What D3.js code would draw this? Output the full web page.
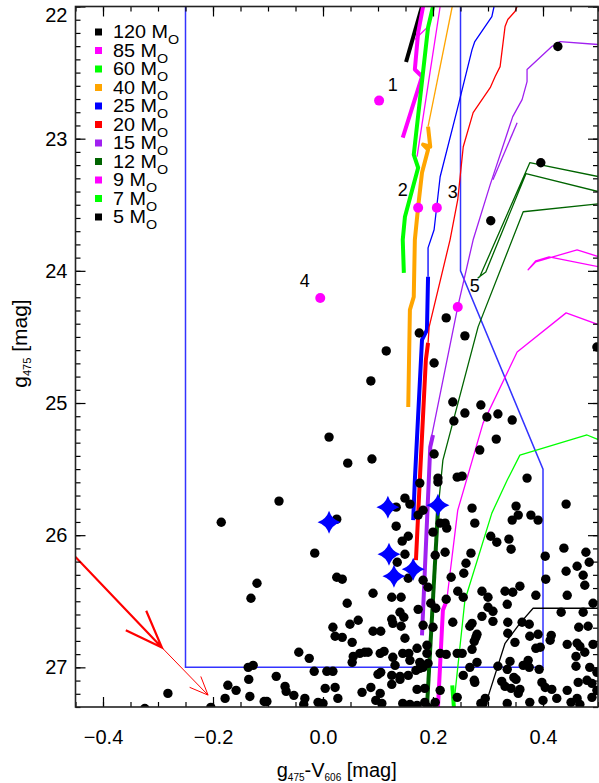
<!DOCTYPE html>
<html><head><meta charset="utf-8">
<script src="https://cdn.jsdelivr.net/npm/d3@7"></script>
<style>body{margin:0;background:#fff} svg{display:block;font-family:"Liberation Sans",Arial,Helvetica,sans-serif}</style>
</head><body><svg id="c" width="599" height="783"></svg>
<script>
// ---------- data ----------
const xTicks = [-0.4, -0.2, 0.0, 0.2, 0.4];
const yTicks = [22, 23, 24, 25, 26, 27];
const legendMasses = ["120", "85", "60", "40", "25", "20", "15", "12", "9", "7", "5"];
const legendColors = ["#000000", "#ff00ff", "#00ff00", "#ffa500", "#0000ff", "#ff0000", "#a020f0", "#006400", "#ff00ff", "#00ff00", "#000000"];

// selection box (x, y)
const boxX = [-0.25, -0.25, 0.4, 0.4, 0.25, 0.25];
const boxY = [22.0, 27.0, 27.0, 25.5, 24.0, 22.0];

// evolutionary tracks
const track120Thick = [[0.151,22.42],[0.180,22.0]];
const track85Thick = [[0.182,22.0],[0.173,22.197],[0.167,22.477],[0.180,22.530],[0.145,22.992]];
const track85Thin = [[0.213,22.0],[0.171,23.136]];
const track85Branch = [[0.167,22.25],[0.191,22.152]];
const track60Thick = [[0.200,22.0],[0.191,22.159],[0.165,23.121],[0.173,23.220],[0.149,23.591],[0.145,23.765],[0.147,24.015]];
const track40Thin = [[0.235,22.0],[0.191,22.909]];
const track40Thick = [[0.191,22.909],[0.195,23.061],[0.182,23.045],[0.191,23.083],[0.180,23.258],[0.173,23.515],[0.167,23.765],[0.165,24.197],[0.158,24.295],[0.155,25.030]];
const track25Thin = [[0.311,22.0],[0.307,22.076],[0.276,22.265],[0.271,22.326],[0.244,22.780],[0.213,23.288],[0.202,23.689],[0.191,23.826],[0.191,24.045]];
const track25Thick = [[0.191,24.045],[0.189,24.447],[0.180,24.523],[0.167,25.583],[0.164,25.886]];
const track20Thin = [[0.353,22.0],[0.349,22.038],[0.336,22.098],[0.331,22.152],[0.322,22.455],[0.313,22.530],[0.304,22.614],[0.273,22.803],[0.255,23.061],[0.245,23.462],[0.231,23.765],[0.193,24.424],[0.191,24.545]];
const track20Thick = [[0.191,24.545],[0.187,24.674],[0.176,25.583],[0.169,26.189]];
const track15Thin = [[0.502,22.288],[0.431,22.265],[0.416,22.303],[0.371,22.477],[0.371,22.568],[0.362,22.705],[0.345,22.833],[0.304,23.348],[0.273,23.765],[0.245,24.273],[0.195,25.303]];
const track15Loop = [[0.353,22.879],[0.309,23.311]];
const track15Thick = [[0.200,25.242],[0.195,25.333],[0.180,26.758]];
const track12Loop = [[0.502,23.288],[0.376,23.182],[0.285,24.045],[0.282,24.053],[0.296,24.008],[0.369,23.265],[0.502,23.402]];
const track12Thin = [[0.502,23.492],[0.364,23.553],[0.282,24.424],[0.218,25.432],[0.209,25.811]];
const track12Thick = [[0.209,25.811],[0.189,27.303]];
const track9Loop = [[0.502,23.894],[0.462,23.841],[0.387,23.932],[0.373,23.992],[0.387,23.924],[0.411,23.894],[0.502,23.970]];
const track9Thin = [[0.502,24.409],[0.442,24.318],[0.353,24.614],[0.291,25.152],[0.245,25.811],[0.225,26.492]];
const track9Thick = [[0.225,26.492],[0.218,26.568],[0.209,27.303]];
const track7Thin = [[0.502,25.280],[0.480,25.242],[0.358,25.394],[0.335,25.583],[0.307,25.833],[0.258,26.492],[0.240,27.197]];
const track7Thick = [[0.235,27.136],[0.238,27.303]];
const track5Thin = [[0.502,26.553],[0.382,26.553],[0.358,26.667],[0.331,26.818],[0.298,27.250],[0.291,27.303]];

// field stars [colour, magnitude]
const fieldStars = [
[0.427,22.303],[0.396,23.182],[0.305,23.621],[0.224,24.356],[0.175,24.470],[0.258,24.492],[0.115,24.606],[0.087,24.833],[0.202,24.697],[0.236,24.992],[0.287,25.015],[0.258,25.076],[0.318,25.083],[0.298,25.106],[0.238,25.136],[0.344,25.129],[0.315,25.273],[0.285,25.356],[0.202,25.386],[0.045,25.455],[0.089,25.424],[0.209,25.568],[0.244,25.561],[0.253,25.553],[0.371,25.568],[0.498,24.576],[0.011,25.258],
[-0.080,25.742],[-0.185,25.902],[-0.120,26.364],[-0.131,26.477],[-0.044,26.886],[-0.136,27.000],[-0.127,26.985],[-0.135,27.091],[-0.085,27.068],[-0.173,27.136],[-0.158,27.174],[-0.069,27.144],[-0.067,27.182],[-0.282,27.197],[-0.178,27.235],[-0.133,27.220],[-0.053,27.212],[-0.107,27.258],[-0.102,27.258],[-0.033,27.235],[-0.035,27.280],[-0.324,27.311],[-0.204,27.303],[-0.025,26.932],
[0.176,25.606],[0.209,25.598],[0.149,25.720],[0.158,25.765],[0.133,25.788],[0.182,25.811],[0.173,25.848],[0.025,25.879],[0.133,25.932],[0.222,25.909],[0.213,25.909],[0.225,25.947],[0.200,25.977],[0.155,26.008],[0.144,26.045],[-0.015,26.136],[0.149,26.144],[0.222,26.129],[0.204,26.152],[0.135,26.205],
[0.025,26.318],[0.035,26.333],[0.155,26.326],[0.182,26.341],[0.191,26.394],[0.091,26.439],[0.125,26.470],[0.142,26.470],[0.044,26.515],[0.173,26.561],[0.196,26.515],[0.205,26.553],[0.224,26.485],[0.140,26.583],[0.147,26.621],[0.125,26.636],[0.127,26.667],[0.064,26.644],[0.049,26.674],[0.018,26.697],[0.142,26.689],[0.182,26.682],[0.200,26.697],[0.091,26.727],[0.105,26.727],[0.022,26.765],[0.035,26.773],[0.053,26.811],[0.149,26.780],[0.189,26.833],[0.171,26.856],[0.236,26.659],
[0.067,26.894],[0.076,26.886],[0.082,26.886],[0.055,26.917],[0.053,26.962],[0.104,26.894],[0.111,26.879],[0.127,26.924],[0.145,26.894],[0.156,26.894],[0.189,26.894],[0.213,26.894],[0.224,26.902],[0.158,26.947],[0.176,26.962],[0.191,26.970],[0.131,26.985],
[-0.016,27.030],[0.007,27.030],[0.018,27.030],[0.105,27.038],[0.100,27.053],[0.125,27.061],[0.140,27.068],[0.155,27.061],[0.169,27.023],[0.176,27.008],[0.182,27.000],
[0.004,27.159],[0.022,27.152],[0.071,27.189],[0.087,27.152],[0.104,27.197],[0.125,27.129],[0.140,27.091],[0.171,27.167],[0.185,27.159],[0.213,27.174],
[-0.009,27.265],[0.000,27.273],[0.027,27.235],[0.096,27.250],[0.107,27.273],[0.145,27.273],[0.158,27.280],[0.171,27.288],[0.185,27.265],[0.191,27.303],[0.204,27.265],
[0.271,25.795],[0.276,25.909],[0.351,25.780],[0.355,25.848],[0.344,25.886],[0.378,25.848],[0.391,25.886],[0.442,25.765],[0.305,26.008],[0.316,26.053],[0.338,26.030],[0.342,26.106],[0.269,26.136],[0.260,26.212],[0.256,26.288],[0.233,26.318],
[0.404,26.159],[0.438,26.098],[0.478,26.129],[0.442,26.273],[0.462,26.235],[0.484,26.205],[0.473,26.303],[0.405,26.333],[0.476,26.379],[0.358,26.386],[0.345,26.432],[0.331,26.424],[0.289,26.424],[0.300,26.470],[0.245,26.424],[0.255,26.470],[0.387,26.455],[0.444,26.455],
[0.335,26.523],[0.300,26.545],[0.309,26.576],[0.289,26.614],[0.433,26.583],[0.473,26.583],[0.491,26.515],[0.271,26.667],[0.267,26.689],[0.309,26.652],[0.336,26.659],[0.362,26.659],[0.375,26.674],[0.336,26.742],[0.280,26.750],[0.278,26.773],[0.275,26.803],[0.349,26.811],[0.376,26.765],[0.391,26.750],[0.415,26.758],[0.465,26.697],[0.482,26.689],[0.413,26.795],[0.444,26.826],[0.462,26.818],[0.467,26.841],[0.491,26.826],
[0.244,26.894],[0.253,26.894],[0.271,26.864],[0.387,26.856],[0.395,26.848],[0.460,26.917],[0.476,26.886],[0.280,26.962],[0.340,26.955],[0.373,26.947],[0.267,27.000],[0.318,26.992],[0.335,27.015],[0.364,26.985],[0.375,27.000],[0.393,27.015],[0.460,26.992],[0.485,27.000],[0.498,27.038],
[0.255,27.061],[0.275,27.098],[0.325,27.106],[0.347,27.076],[0.351,27.091],[0.398,27.114],[0.444,27.174],[0.464,27.114],[0.480,27.098],[0.489,27.121],[0.276,27.114],[0.331,27.144],[0.342,27.159],[0.358,27.167],[0.355,27.197],[0.404,27.152],[0.416,27.167],[0.425,27.235],
[0.244,27.227],[0.295,27.235],[0.287,27.273],[0.291,27.273],[0.335,27.273],[0.376,27.265],[0.400,27.250],[0.451,27.265],[0.462,27.235],[0.467,27.280],[0.489,27.227],[0.498,27.174]
];

// blue four-pointed star candidates
const candX = [0.011, 0.118, 0.209, 0.120, 0.164, 0.129];
const candY = [25.902, 25.788, 25.773, 26.144, 26.258, 26.311];

// numbered magenta sources
const srcX = [0.102, 0.173, 0.207, -0.005, 0.245];
const srcY = [22.712, 23.523, 23.523, 24.205, 24.273];
const srcLabels = ["1", "2", "3", "4", "5"];
const srcLabelX = [0.127, 0.145, 0.236, -0.033, 0.276];
const srcLabelY = [22.591, 23.386, 23.402, 24.076, 24.114];

// reddening arrows (start, mid, end)
const arrowX = [-0.45, -0.293, -0.209];
const arrowY = [26.165, 26.85, 27.21];

// ---------- drawing ----------
const svg = d3.select("#c");
const x = d3.scaleLinear().domain([-0.45, 0.5]).range([75.5, 598]);
const y = d3.scaleLinear().domain([22, 27.3]).range([6.5, 707]);
const X0 = x(-0.45), X1 = x(0.5), Y0 = y(22), Y1 = y(27.3);

svg.append("defs").append("clipPath").attr("id", "clip")
  .append("rect").attr("x", X0).attr("y", Y0).attr("width", X1 - X0).attr("height", Y1 - Y0);
const plot = svg.append("g").attr("clip-path", "url(#clip)");
const line = d3.line().x(d => x(d[0])).y(d => y(d[1]));

// selection box
plot.append("path").attr("d", line(boxX.map((v, i) => [v, boxY[i]])))
  .attr("fill", "none").attr("stroke", "#3333ff").attr("stroke-width", 1.5);

// tracks
const thin = 1.3, thick = 4;
const tracks = [
  [track120Thick, 0, thick],
  [track85Thin, 1, thin], [track85Branch, 1, thin], [track85Thick, 1, thick],
  [track60Thick, 2, thick],
  [track40Thin, 3, thin], [track40Thick, 3, thick],
  [track25Thin, 4, thin], [track25Thick, 4, thick],
  [track20Thin, 5, thin], [track20Thick, 5, thick],
  [track15Thin, 6, thin], [track15Loop, 6, thin], [track15Thick, 6, thick],
  [track12Loop, 7, thin], [track12Thin, 7, thin], [track12Thick, 7, thick],
  [track9Loop, 8, thin], [track9Thin, 8, thin], [track9Thick, 8, thick],
  [track7Thin, 9, thin], [track7Thick, 9, thick],
  [track5Thin, 10, thin]
];
plot.selectAll("path.track").data(tracks).join("path").attr("class", "track")
  .attr("d", d => line(d[0])).attr("fill", "none")
  .attr("stroke", d => legendColors[d[1]]).attr("stroke-width", d => d[2])
  .attr("stroke-linejoin", "round");

// field stars
plot.selectAll("circle.fs").data(fieldStars).join("circle").attr("class", "fs")
  .attr("cx", d => x(d[0])).attr("cy", d => y(d[1])).attr("r", 4.7).attr("fill", "#000");

// four-pointed stars
function star4(cx, cy, r) {
  const c = 2.8;
  return `M${cx},${cy - r}Q${cx + c},${cy - c} ${cx + r},${cy}Q${cx + c},${cy + c} ${cx},${cy + r}` +
         `Q${cx - c},${cy + c} ${cx - r},${cy}Q${cx - c},${cy - c} ${cx},${cy - r}Z`;
}
plot.selectAll("path.cand").data(candX).join("path").attr("class", "cand")
  .attr("d", (d, i) => star4(x(d), y(candY[i]), 11.5)).attr("fill", "#0000ff");

// magenta sources
plot.selectAll("circle.src").data(srcX).join("circle").attr("class", "src")
  .attr("cx", d => x(d)).attr("cy", (d, i) => y(srcY[i])).attr("r", 5).attr("fill", "#ff00ff");
svg.selectAll("text.srcl").data(srcLabels).join("text").attr("class", "srcl")
  .attr("x", (d, i) => x(srcLabelX[i])).attr("y", (d, i) => y(srcLabelY[i]))
  .attr("text-anchor", "middle").attr("dominant-baseline", "central")
  .attr("font-size", 18).text(d => d);

// arrows
function arrowHead(px, py, qx, qy, len, ang) {
  const a = Math.atan2(qy - py, qx - px);
  const p1 = [qx - len * Math.cos(a - ang), qy - len * Math.sin(a - ang)];
  const p2 = [qx - len * Math.cos(a + ang), qy - len * Math.sin(a + ang)];
  return `M${p1[0]},${p1[1]}L${qx},${qy}L${p2[0]},${p2[1]}`;
}
const ax = arrowX.map(v => x(v)), ay = arrowY.map(v => y(v));
plot.append("path").attr("d", `M${ax[0]},${ay[0]}L${ax[1]},${ay[1]}` + arrowHead(ax[0], ay[0], ax[1], ay[1], 40, 0.36))
  .attr("fill", "none").attr("stroke", "#ff0000").attr("stroke-width", 2.2);
plot.append("path").attr("d", `M${ax[1]},${ay[1]}L${ax[2]},${ay[2]}` + arrowHead(ax[1], ay[1], ax[2], ay[2], 20, 0.4))
  .attr("fill", "none").attr("stroke", "#ff0000").attr("stroke-width", 1);

// axes (ticks on all four sides, pointing inwards)
const major = 10, minor = 5;
const xMinor = d3.range(-45, 51, 5).map(v => v / 100);
const yMinor = d3.range(220, 274, 1).map(v => v / 10);
function styleAxis(g) { g.select(".domain").remove(); g.selectAll("line").attr("stroke", "#000").attr("stroke-width", 1.2); }
svg.append("g").attr("transform", `translate(0,${Y1})`)
  .call(d3.axisBottom(x).tickValues(xTicks).tickSize(-major).tickPadding(23).tickFormat(d3.format(".1f")))
  .call(styleAxis).call(g => g.selectAll("text").attr("font-size", 20).attr("fill", "#000").attr("font-family", "Liberation Sans, Arial, sans-serif"));
svg.append("g").attr("transform", `translate(0,${Y1})`)
  .call(d3.axisBottom(x).tickValues(xMinor).tickSize(-minor).tickFormat("")).call(styleAxis);
svg.append("g").attr("transform", `translate(0,${Y0})`)
  .call(d3.axisTop(x).tickValues(xTicks).tickSize(-major).tickFormat("")).call(styleAxis);
svg.append("g").attr("transform", `translate(0,${Y0})`)
  .call(d3.axisTop(x).tickValues(xMinor).tickSize(-minor).tickFormat("")).call(styleAxis);
svg.append("g").attr("transform", `translate(${X0},0)`)
  .call(d3.axisLeft(y).tickValues(yTicks).tickSize(-major).tickPadding(8).tickFormat(d3.format("d")))
  .call(styleAxis)
  .call(g => g.selectAll("text").attr("font-size", 20).attr("fill", "#000").attr("font-family", "Liberation Sans, Arial, sans-serif"))
  .call(g => g.selectAll("text").filter(d => d === 22).attr("dy", "0.75em"));
svg.append("g").attr("transform", `translate(${X0},0)`)
  .call(d3.axisLeft(y).tickValues(yMinor).tickSize(-minor).tickFormat("")).call(styleAxis);
svg.append("g").attr("transform", `translate(${X1},0)`)
  .call(d3.axisRight(y).tickValues(yTicks).tickSize(-major).tickFormat("")).call(styleAxis);
svg.append("g").attr("transform", `translate(${X1},0)`)
  .call(d3.axisRight(y).tickValues(yMinor).tickSize(-minor).tickFormat("")).call(styleAxis);

// frame
svg.append("rect").attr("x", X0).attr("y", Y0).attr("width", X1 - X0).attr("height", Y1 - Y0)
  .attr("fill", "none").attr("stroke", "#222").attr("stroke-width", 1.6);

// axis titles
const xt = svg.append("text").attr("x", x(0.025)).attr("y", 777).attr("text-anchor", "middle").attr("font-size", 20);
xt.append("tspan").text("g");
xt.append("tspan").attr("font-size", 10).attr("dy", 4).text("475");
xt.append("tspan").attr("dy", -4).text("-V");
xt.append("tspan").attr("font-size", 10).attr("dy", 4).text("606");
xt.append("tspan").attr("dy", -4).text(" [mag]");
const yt = svg.append("text").attr("transform", `translate(27,${y(24.55)}) rotate(-90)`).attr("text-anchor", "middle").attr("font-size", 21);
yt.append("tspan").text("g");
yt.append("tspan").attr("font-size", 11).attr("dy", 4).text("475");
yt.append("tspan").attr("dy", -4).text(" [mag]");

// legend
const lg = svg.append("g");
legendMasses.forEach((m, i) => {
  const cy = 32 + i * 18.5;
  lg.append("rect").attr("x", 95).attr("y", cy - 3.5).attr("width", 7).attr("height", 7).attr("fill", legendColors[i]);
  const t = lg.append("text").attr("x", 113).attr("y", cy + 6.5).attr("font-size", 18)
    .attr("transform", `translate(113,0) scale(1.1,1) translate(-113,0)`);
  t.append("tspan").text(m + " M");
  t.append("tspan").attr("font-size", 13).attr("dy", 6).text("O");
});
</script></body></html>
